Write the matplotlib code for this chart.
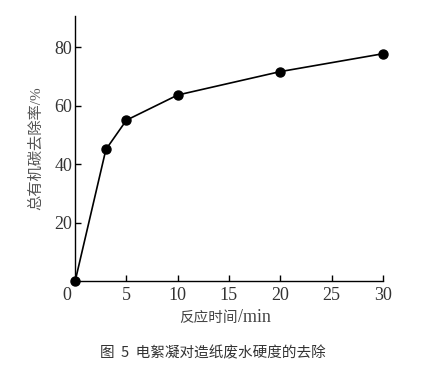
import matplotlib.pyplot as plt
import matplotlib.transforms as mtransforms

# 反应时间 (min) 与 总有机碳去除率 (%)
times = [0, 3, 5, 10, 20, 30]
removal = [0, 45, 55, 63.6, 71.6, 77.7]
xticks = [0, 5, 10, 15, 20, 25, 30]
yticks = [20, 40, 60, 80]

plt.rcParams['font.family'] = ['Liberation Serif', 'Noto Sans CJK SC']
plt.rcParams['axes.unicode_minus'] = False

fig = plt.figure(figsize=(4.42, 3.81), dpi=100)
ax = fig.add_axes([0.170, 0.262, 0.696, 0.696])

ax.plot(times, removal, color='black', linewidth=1.2, marker='o', markersize=6.5, clip_on=False, zorder=3)

ax.set_xlim(0, 30)
ax.set_ylim(0, 90.6)
ax.set_xticks(xticks)
ax.set_yticks(yticks)
ax.set_xticklabels([str(v) for v in xticks])
ax.set_yticklabels([str(v) for v in yticks])

for s in ['top', 'right']:
    ax.spines[s].set_visible(False)
for s in ['left', 'bottom']:
    ax.spines[s].set_linewidth(1.0)

ax.tick_params(axis='both', direction='in', length=4, width=1.0, labelsize=13, colors='black', labelcolor='#333333')
ax.tick_params(axis='x', pad=4)
ax.tick_params(axis='y', pad=2)

# 原点的 0 稍向左移
lab0 = ax.get_xticklabels()[0]
lab0.set_transform(lab0.get_transform() + mtransforms.ScaledTranslation(-8 / 100, 0, fig.dpi_scale_trans))
ax.xaxis.get_major_ticks()[0].tick1line.set_visible(False)

# x 轴标题: 中文与 /min 分开写
fig.text(238 / 442, 1 - 318 / 381, '反应时间', fontsize=10.5, color='#444444', ha='right', va='center',
         family=['Noto Sans CJK SC'])
fig.text(238 / 442, 1 - 317 / 381, '/min', fontsize=13, color='#444444', ha='left', va='center',
         family=['Liberation Serif'])
ax.set_ylabel('总有机碳去除率/%', fontsize=11, color='#555555', labelpad=8)

fig.text(0.482, 0.073, '图  5  电絮凝对造纸废水硬度的去除', fontsize=10.5, color='#333333',
         ha='center', va='center', family=['Noto Sans CJK SC', 'DejaVu Sans'])

fig.savefig('out.png', dpi=100)
